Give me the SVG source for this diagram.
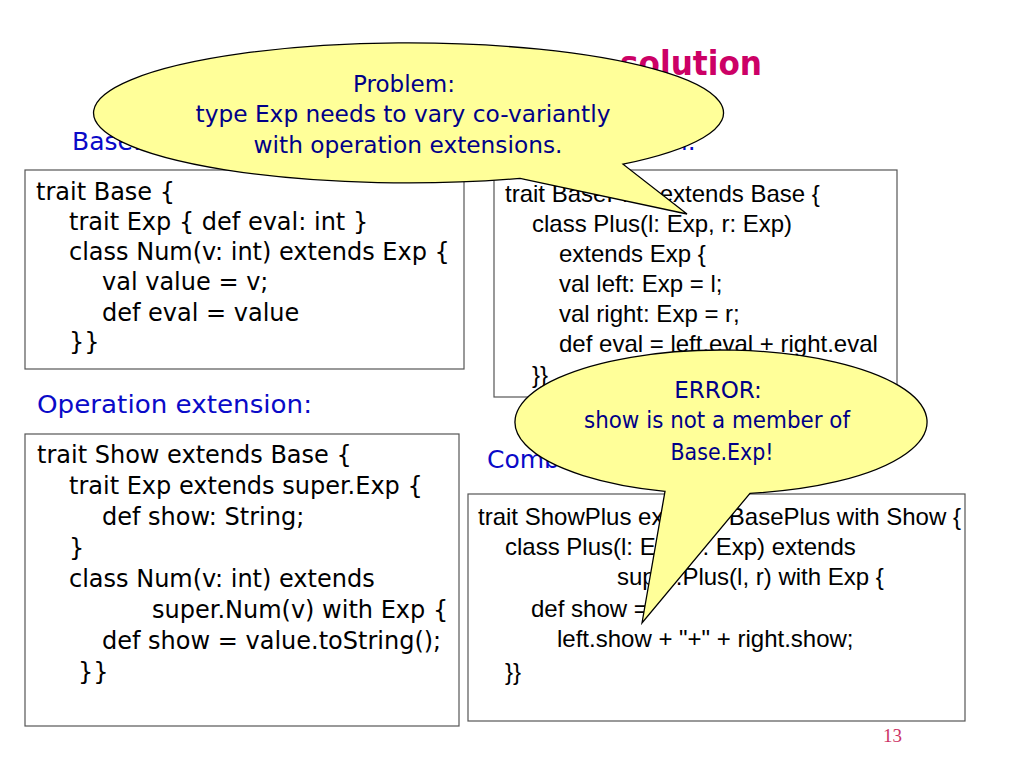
<svg xmlns="http://www.w3.org/2000/svg" width="1024" height="768" viewBox="0 0 1024 768">
<style>
  .box { fill: #ffffff; stroke: #555555; stroke-width: 1.2; }
  .codeL { font-family: "DejaVu Sans", "Liberation Sans", sans-serif; font-size: 24px; fill: #000000; }
  .codeR { font-family: "Liberation Sans", Arial, sans-serif; font-size: 24px; fill: #000000; }
  .label { font-family: "Comic Sans MS", "DejaVu Sans", sans-serif; font-size: 25px; fill: #0a0ac8; }
  .title { font-family: "Comic Sans MS", "DejaVu Sans", sans-serif; font-size: 34px; font-weight: bold; fill: #cc0066; }
  .callout { fill: #ffff99; stroke: #000000; stroke-width: 1.3; }
  .ctext { font-family: "Comic Sans MS", "DejaVu Sans", sans-serif; font-size: 23px; fill: #000088; text-anchor: middle; }
  .pnum { font-family: "Liberation Serif", "Times New Roman", serif; font-size: 19px; fill: #cc3366; }
</style>
<rect x="0" y="0" width="1024" height="768" fill="#ffffff"/>

<g id="title">
  <text class="title" x="620" y="75" textLength="142" lengthAdjust="spacingAndGlyphs">solution</text>
</g>

<g id="label-base"><text class="label" x="72" y="150">Base:</text></g>
<g id="label-data"><text class="label" x="696" y="150" text-anchor="end">Data extension:</text></g>
<g id="label-operation"><text class="label" x="37" y="413" textLength="275" lengthAdjust="spacingAndGlyphs">Operation extension:</text></g>
<g id="label-combined"><text class="label" x="487" y="468">Combination:</text></g>

<g id="box-base">
  <rect class="box" x="25" y="170" width="439" height="199"/>
  <text class="codeL" x="36" y="200">trait Base {</text>
  <text class="codeL" x="69" y="230">trait Exp { def eval: int }</text>
  <text class="codeL" x="69" y="260">class Num(v: int) extends Exp {</text>
  <text class="codeL" x="102" y="290">val value = v;</text>
  <text class="codeL" x="102" y="321">def eval = value</text>
  <text class="codeL" x="69" y="350">}}</text>
</g>

<g id="box-baseplus">
  <rect class="box" x="494" y="170" width="403" height="227"/>
  <text class="codeR" x="505" y="202">trait BasePlus extends Base {</text>
  <text class="codeR" x="532" y="232">class Plus(l: Exp, r: Exp)</text>
  <text class="codeR" x="559" y="262">extends Exp {</text>
  <text class="codeR" x="559" y="292">val left: Exp = l;</text>
  <text class="codeR" x="559" y="322">val right: Exp = r;</text>
  <text class="codeR" x="559" y="352">def eval = left.eval + right.eval</text>
  <text class="codeR" x="532" y="383">}}</text>
</g>

<g id="box-show">
  <rect class="box" x="25" y="434" width="434" height="292"/>
  <text class="codeL" x="37" y="463">trait Show extends Base {</text>
  <text class="codeL" x="69" y="494">trait Exp extends super.Exp {</text>
  <text class="codeL" x="102" y="525">def show: String;</text>
  <text class="codeL" x="69" y="556">}</text>
  <text class="codeL" x="69" y="587">class Num(v: int) extends</text>
  <text class="codeL" x="152" y="618">super.Num(v) with Exp {</text>
  <text class="codeL" x="102" y="649">def show = value.toString();</text>
  <text class="codeL" x="78" y="680">}}</text>
</g>

<g id="box-showplus">
  <rect class="box" x="468" y="494" width="497" height="227"/>
  <text class="codeR" x="478" y="525">trait ShowPlus extends BasePlus with Show {</text>
  <text class="codeR" x="505" y="555">class Plus(l: Exp, r: Exp) extends</text>
  <text class="codeR" x="617" y="585">super.Plus(l, r) with Exp {</text>
  <text class="codeR" x="531" y="617">def show =</text>
  <text class="codeR" x="557" y="647">left.show + "+" + right.show;</text>
  <text class="codeR" x="505" y="680">}}</text>
</g>

<g id="connectors"></g>

<g id="callout-problem">
  <path class="callout" d="M 687,214 L 520,178.4 A 315 70 0 1 1 623,164.2 Z"/>
  <text class="ctext" x="404" y="92">Problem:</text>
  <text class="ctext" x="403" y="122" textLength="415" lengthAdjust="spacingAndGlyphs">type Exp needs to vary co-variantly</text>
  <text class="ctext" x="408" y="153" textLength="309" lengthAdjust="spacingAndGlyphs">with operation extensions.</text>
</g>

<g id="callout-error">
  <path class="callout" d="M 642,623 L 665,491.3 A 206 72 0 1 1 750,493.3 Z"/>
  <text class="ctext" x="718" y="398">ERROR:</text>
  <text class="ctext" x="717" y="428" textLength="266" lengthAdjust="spacingAndGlyphs">show is not a member of</text>
  <text class="ctext" x="722" y="460" textLength="103" lengthAdjust="spacingAndGlyphs">Base.Exp!</text>
</g>

<g id="page-number"><text class="pnum" x="883" y="742">13</text></g>
</svg>
